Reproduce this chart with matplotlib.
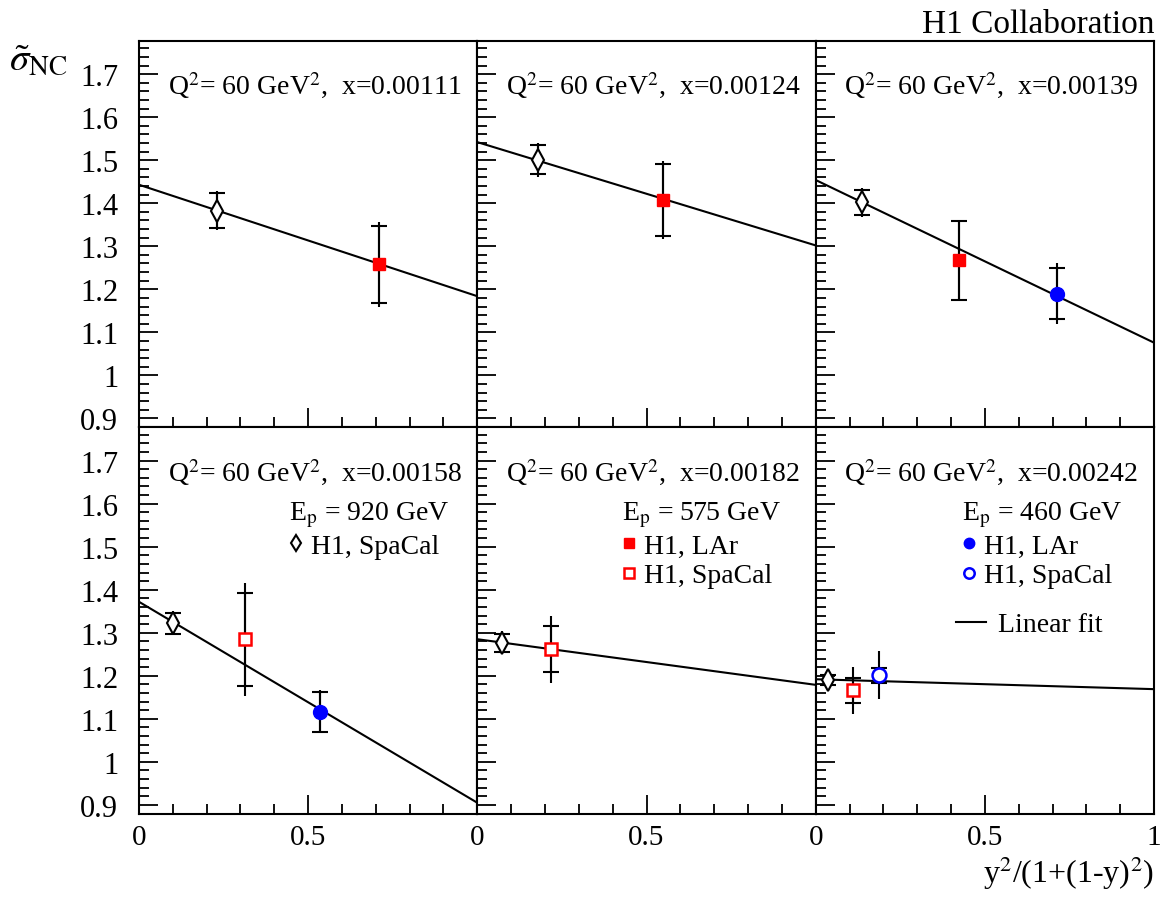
import matplotlib
matplotlib.use("Agg")
import matplotlib.pyplot as plt
from matplotlib.ticker import MultipleLocator, FuncFormatter
from matplotlib.lines import Line2D
import numpy as np

plt.rcParams['font.family'] = ['Liberation Serif', 'DejaVu Serif']
plt.rcParams['mathtext.fontset'] = 'stix'

# ---------------- data ----------------
panel_x = ['0.00111', '0.00124', '0.00139', '0.00158', '0.00182', '0.00242']

# Ep = 920 GeV, H1 SpaCal (open diamond), one point per panel
s920_x = [0.231, 0.178, 0.137, 0.101, 0.072, 0.036]
s920_y = [1.383, 1.501, 1.402, 1.322, 1.277, 1.191]
s920_stat = [0.040, 0.034, 0.029, 0.024, 0.021, 0.012]
s920_tot = [0.045, 0.040, 0.034, 0.028, 0.026, 0.015]

# Ep = 575 GeV, H1 LAr (filled red square)
l575_panel = [0, 1, 2]
l575_x = [0.709, 0.550, 0.423]
l575_y = [1.258, 1.408, 1.267]
l575_stat = [0.089, 0.083, 0.091]
l575_tot = [0.098, 0.090, 0.092]

# Ep = 575 GeV, H1 SpaCal (open red square)
s575_panel = [3, 4, 5]
s575_x = [0.313, 0.219, 0.109]
s575_y = [1.285, 1.262, 1.166]
s575_stat = [0.108, 0.054, 0.030]
s575_tot = [0.131, 0.078, 0.055]

# Ep = 460 GeV, H1 LAr (filled blue circle)
l460_panel = [2, 3]
l460_x = [0.714, 0.534]
l460_y = [1.190, 1.116]
l460_stat = [0.060, 0.046]
l460_tot = [0.070, 0.050]

# Ep = 460 GeV, H1 SpaCal (open blue circle)
s460_panel = [5]
s460_x = [0.188]
s460_y = [1.201]
s460_stat = [0.018]
s460_tot = [0.056]

# linear fits: intercept at 0 and slope
fit_a = [1.443, 1.542, 1.454, 1.372, 1.285, 1.192]
fit_b = [-0.259, -0.240, -0.378, -0.467, -0.106, -0.023]

# ---------------- figure ----------------
fig = plt.figure(figsize=(11.63, 9.03), dpi=100)
gs = fig.add_gridspec(2, 3, left=0.1195, right=0.9923, top=0.9535, bottom=0.0975,
                      hspace=0, wspace=0)
axes = [fig.add_subplot(gs[i // 3, i % 3]) for i in range(6)]

RED = '#ff0000'
BLUE = '#0000ff'
LW = 1.5

styles = {
    's920': dict(marker='d', ms=11, mfc='white', mec='black', mew=1.5),
    'l575': dict(marker='s', ms=9, mfc=RED, mec=RED, mew=1.0),
    's575': dict(marker='s', ms=9, mfc='white', mec=RED, mew=1.8),
    'l460': dict(marker='o', ms=10, mfc=BLUE, mec=BLUE, mew=1.0),
    's460': dict(marker='o', ms=10, mfc='white', mec=BLUE, mew=1.8),
}


def draw(ax, x, y, stat, tot, st):
    ax.errorbar(x, y, yerr=tot, fmt='none', ecolor='black', elinewidth=LW, capsize=0, zorder=3)
    ax.errorbar(x, y, yerr=stat, fmt='none', ecolor='black', elinewidth=LW, capsize=5.5,
                capthick=LW, zorder=3)
    ax.plot(x, y, linestyle='none', zorder=4, **st)


xx = np.array([0.0, 1.0])
for i, ax in enumerate(axes):
    ax.set_xlim(0, 1)
    ax.set_ylim(0.879, 1.777)
    ax.plot(xx, fit_a[i] + fit_b[i] * xx, color='black', lw=LW, zorder=2)
    draw(ax, [s920_x[i]], [s920_y[i]], [s920_stat[i]], [s920_tot[i]], styles['s920'])

for k, p in enumerate(l575_panel):
    draw(axes[p], [l575_x[k]], [l575_y[k]], [l575_stat[k]], [l575_tot[k]], styles['l575'])
for k, p in enumerate(s575_panel):
    draw(axes[p], [s575_x[k]], [s575_y[k]], [s575_stat[k]], [s575_tot[k]], styles['s575'])
for k, p in enumerate(l460_panel):
    draw(axes[p], [l460_x[k]], [l460_y[k]], [l460_stat[k]], [l460_tot[k]], styles['l460'])
for k, p in enumerate(s460_panel):
    draw(axes[p], [s460_x[k]], [s460_y[k]], [s460_stat[k]], [s460_tot[k]], styles['s460'])

gfmt = FuncFormatter(lambda v, pos: '%g' % round(v, 3))
for i, ax in enumerate(axes):
    for s in ax.spines.values():
        s.set_linewidth(1.5)
    ax.xaxis.set_major_locator(MultipleLocator(0.5))
    ax.xaxis.set_minor_locator(MultipleLocator(0.1))
    ax.yaxis.set_major_locator(MultipleLocator(0.1))
    ax.yaxis.set_minor_locator(MultipleLocator(0.02))
    ax.tick_params(which='both', direction='in', top=False, right=False, width=1.3)
    ax.tick_params(which='major', length=14)
    ax.tick_params(which='minor', length=7)
    ax.tick_params(axis='y', which='major', pad=15, labelsize=22)
    ax.tick_params(axis='x', which='major', pad=7, labelsize=21)
    if i % 3 == 0:
        ax.yaxis.set_major_formatter(gfmt)
    else:
        ax.tick_params(axis='y', labelleft=False)
    if i < 3:
        ax.tick_params(axis='x', labelbottom=False)
    else:
        if i == 5:
            ax.xaxis.set_major_formatter(gfmt)
        else:
            ax.xaxis.set_major_formatter(FuncFormatter(lambda v, pos: '' if v > 0.9 else '%g' % v))
    ax.text(0.085, 0.863, 'Q$^{2}$= 60 GeV$^{2}$,  x=' + panel_x[i], transform=ax.transAxes,
            fontsize=20, va='baseline', ha='left')

# legends
def mk(st):
    return Line2D([], [], linestyle='none', **{**st, 'ms': st['ms'] * 0.75})

leg_kw = dict(loc='upper left', frameon=False, borderaxespad=0, borderpad=0,
              handlelength=0.5, handletextpad=0.28, labelspacing=0.15, fontsize=20,
              title_fontsize=20, alignment='left')
axes[3].legend([mk(styles['s920'])], ['H1, SpaCal'], bbox_to_anchor=(0.443, 0.813),
               title='E$_{\\rm p}$ = 920 GeV', **leg_kw)
axes[4].legend([mk(styles['l575']), mk(styles['s575'])], ['H1, LAr', 'H1, SpaCal'],
               bbox_to_anchor=(0.428, 0.813), title='E$_{\\rm p}$ = 575 GeV', **leg_kw)
lg = axes[5].legend([mk(styles['l460']), mk(styles['s460'])], ['H1, LAr', 'H1, SpaCal'],
                    bbox_to_anchor=(0.432, 0.813), title='E$_{\\rm p}$ = 460 GeV', **leg_kw)
axes[5].add_artist(lg)
axes[5].legend([Line2D([], [], color='black', lw=LW)], ['Linear fit'], loc='upper left',
               bbox_to_anchor=(0.414, 0.523), frameon=False, borderaxespad=0, borderpad=0,
               handlelength=1.1, handletextpad=0.43, fontsize=20)

fig.text(0.9925, 0.963, 'H1 Collaboration', ha='right', va='baseline', fontsize=24)
fig.text(0.9925, 0.022, 'y$^{2}$/(1+(1-y)$^{2}$)', ha='right', va='baseline', fontsize=23)
fig.text(0.008, 0.922, r'$\tilde{\sigma}_{\rm NC}$', ha='left', va='baseline', fontsize=28)

fig.savefig('out.png', dpi=100)
